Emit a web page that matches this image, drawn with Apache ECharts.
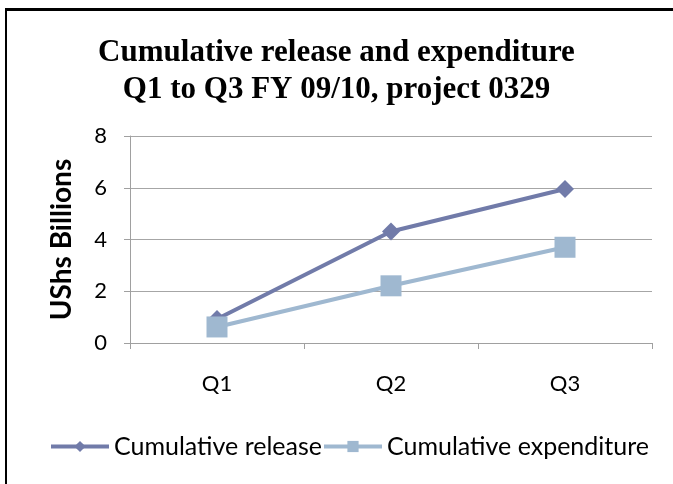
<!DOCTYPE html>
<html><head><meta charset="utf-8">
<script src="https://cdn.jsdelivr.net/npm/echarts@6/dist/echarts.min.js"></script>
<style>
html,body{margin:0;padding:0;background:#fff;}
#frame{position:absolute;left:5px;top:8px;width:700px;height:500px;border-left:2px solid #000;border-top:3px solid #000;}
#c{position:absolute;left:0;top:0;width:673px;height:484px;}
</style></head>
<body>
<div id="frame"></div>
<div id="c"></div>
<script>
const categories = ['Q1', 'Q2', 'Q3'];
const releaseValues = [0.93, 4.31, 5.95];
const expenditureValues = [0.62, 2.21, 3.70];
const yTicks = [0, 2, 4, 6, 8];
const titleText = 'Cumulative release and expenditure\nQ1 to Q3 FY 09/10, project 0329';
const yName = 'UShs Billions';
const seriesNames = ['Cumulative release', 'Cumulative expenditure'];

const chart = echarts.init(document.getElementById('c'));
const labelFont = 'Lato, "Open Sans", sans-serif';
chart.setOption({
  animation: false,
  title: {
    text: titleText, left: 'center', top: 29,
    textStyle: {fontFamily: '"Liberation Serif", "Times New Roman", serif', fontWeight: 'bold', fontSize: 31, lineHeight: 37, color: '#000'}
  },
  grid: {left: 130, right: 21, top: 136, bottom: 141},
  legend: {
    bottom: 20, left: 44, itemWidth: 58, itemHeight: 14, itemGap: 0,
    lineStyle: {width: 4},
    textStyle: {fontFamily: labelFont, fontSize: 25, color: '#000'},
    data: seriesNames
  },
  xAxis: {
    type: 'category', data: categories, boundaryGap: true,
    axisLine: {lineStyle: {color: '#a0a0a0', width: 1}},
    axisTick: {show: true, length: 6, lineStyle: {color: '#a0a0a0'}},
    axisLabel: {margin: 30, fontFamily: labelFont, fontSize: 22, color: '#000'}
  },
  yAxis: {
    type: 'value', min: yTicks[0], max: yTicks[yTicks.length - 1], interval: 2,
    name: yName, nameLocation: 'middle', nameGap: 54,
    nameTextStyle: {fontFamily: labelFont, fontWeight: 'bold', fontSize: 28, color: '#000'},
    axisLine: {show: true, lineStyle: {color: '#a0a0a0', width: 1}},
    axisTick: {show: true, length: 6, lineStyle: {color: '#a0a0a0'}},
    splitLine: {lineStyle: {color: '#a6a6a6', width: 1}},
    axisLabel: {margin: 23, fontFamily: labelFont, fontSize: 22, color: '#000'}
  },
  series: [
    {name: seriesNames[0], type: 'line', data: releaseValues, symbol: 'diamond', symbolSize: 18,
     lineStyle: {color: '#717ba9', width: 4}, itemStyle: {color: '#717ba9'}},
    {name: seriesNames[1], type: 'line', data: expenditureValues, symbol: 'rect', symbolSize: 21,
     lineStyle: {color: '#9fb8d0', width: 4}, itemStyle: {color: '#9fb8d0'}}
  ]
});
</script>
</body></html>
